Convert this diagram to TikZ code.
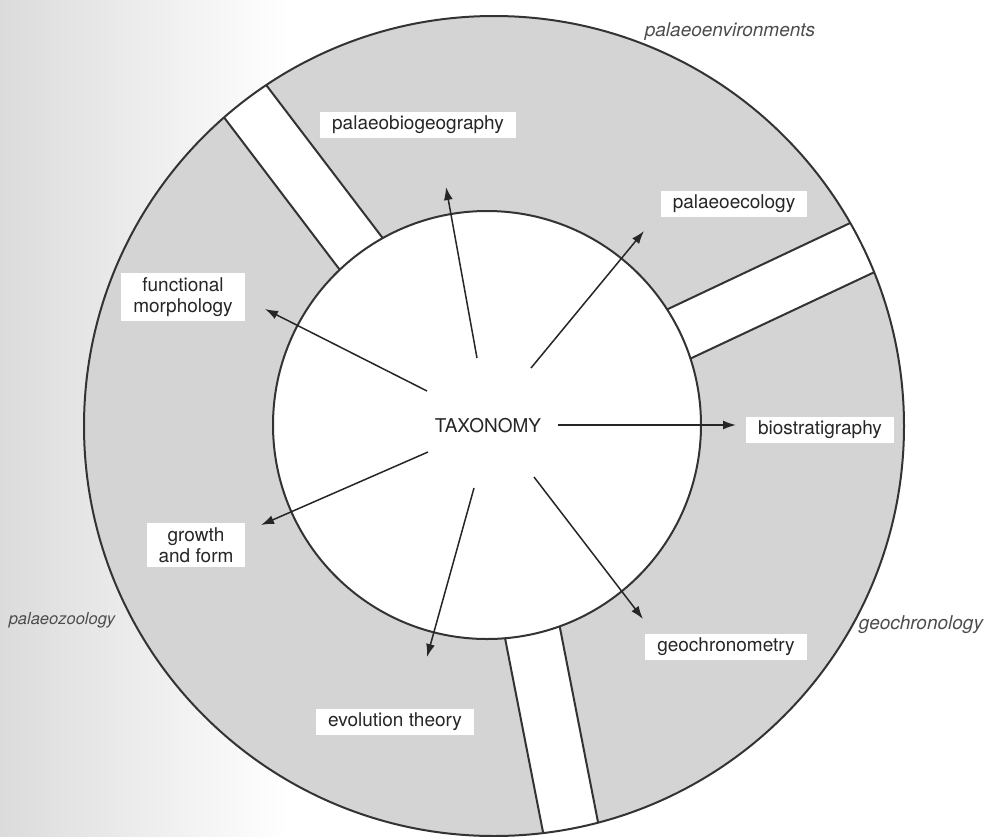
\documentclass[tikz,border=0pt]{standalone}
\usepackage{fontspec}
\setmainfont{TeX Gyre Heros}
\usetikzlibrary{arrows.meta}
\begin{document}
\begin{tikzpicture}[x=1pt,y=-1pt,
  lbl/.style={fill=white, inner xsep=12pt, inner ysep=4pt, text=black!85, font=\fontsize{19}{21}\selectfont, align=center},
  side/.style={text=black!70, inner sep=0pt, font=\fontsize{19}{22}\selectfont\itshape},
  arr/.style={line width=1.5pt, draw=black!85, -{Latex[length=13pt,width=9pt]}},
  edge/.style={line width=2pt, draw=black!80},
]
\useasboundingbox (0,0) rectangle (988,836);
\shade[left color=black!14, right color=white] (0,0) rectangle (290,836);
\fill[black!17] (494,426) circle (410pt);
\begin{scope}
  \clip (494,426) circle (410pt);
  \filldraw[fill=white, edge] (159.5,32.4) -- (390.5,336.6) -- (442.5,316.6) -- (202.5,1.4) -- cycle;
  \filldraw[fill=white, edge] (534.4,372.1) -- (983.6,160) -- (1006.6,210) -- (557.4,421.1) -- cycle;
  \filldraw[fill=white, edge] (476.2,490.9) -- (562.2,930.1) -- (617.2,920.1) -- (531.2,480.9) -- cycle;
\end{scope}
\draw[edge] (494,426) circle (410pt);
\filldraw[fill=white, edge] (487,425) circle (214pt);

\node[lbl] (pbg) at (418,125) {palaeobiogeography};
\node[lbl] (pec) at (734,204) {palaeoecology};
\node[lbl] (fm) at (183,297) {functional\\morphology};
\node[lbl] (bio) at (820,430) {biostratigraphy};
\node[lbl] (gf) at (196,545) {growth\\and form};
\node[lbl] (gcm) at (726,647) {geochronometry};
\node[lbl] (evo) at (395,722) {evolution theory};
\node[text=black!85, font=\fontsize{19}{22}\selectfont] (tax) at (488,426) {TAXONOMY};

\node[side] (penv) at (730,32) {palaeoenvironments};
\node[side, font=\fontsize{16.5}{20}\selectfont\itshape] (pzoo) at (62,620) {palaeozoology};
\node[side] (gchr) at (921,625) {geochronology};

\coordinate (s1) at (477,358); \coordinate (t1) at (446,187);
\coordinate (s2) at (531,368); \coordinate (t2) at (644,231);
\coordinate (s3) at (427,391); \coordinate (t3) at (265,309);
\coordinate (s4) at (558,425); \coordinate (t4) at (736,425);
\coordinate (s5) at (428,452); \coordinate (t5) at (261,525);
\coordinate (s6) at (534,477); \coordinate (t6) at (643,619);
\coordinate (s7) at (474,488); \coordinate (t7) at (427,657);
\draw[arr] (s1) -- (t1);
\draw[arr] (s2) -- (t2);
\draw[arr] (s3) -- (t3);
\draw[arr] (s4) -- (t4);
\draw[arr] (s5) -- (t5);
\draw[arr] (s6) -- (t6);
\draw[arr] (s7) -- (t7);
\end{tikzpicture}
\end{document}
